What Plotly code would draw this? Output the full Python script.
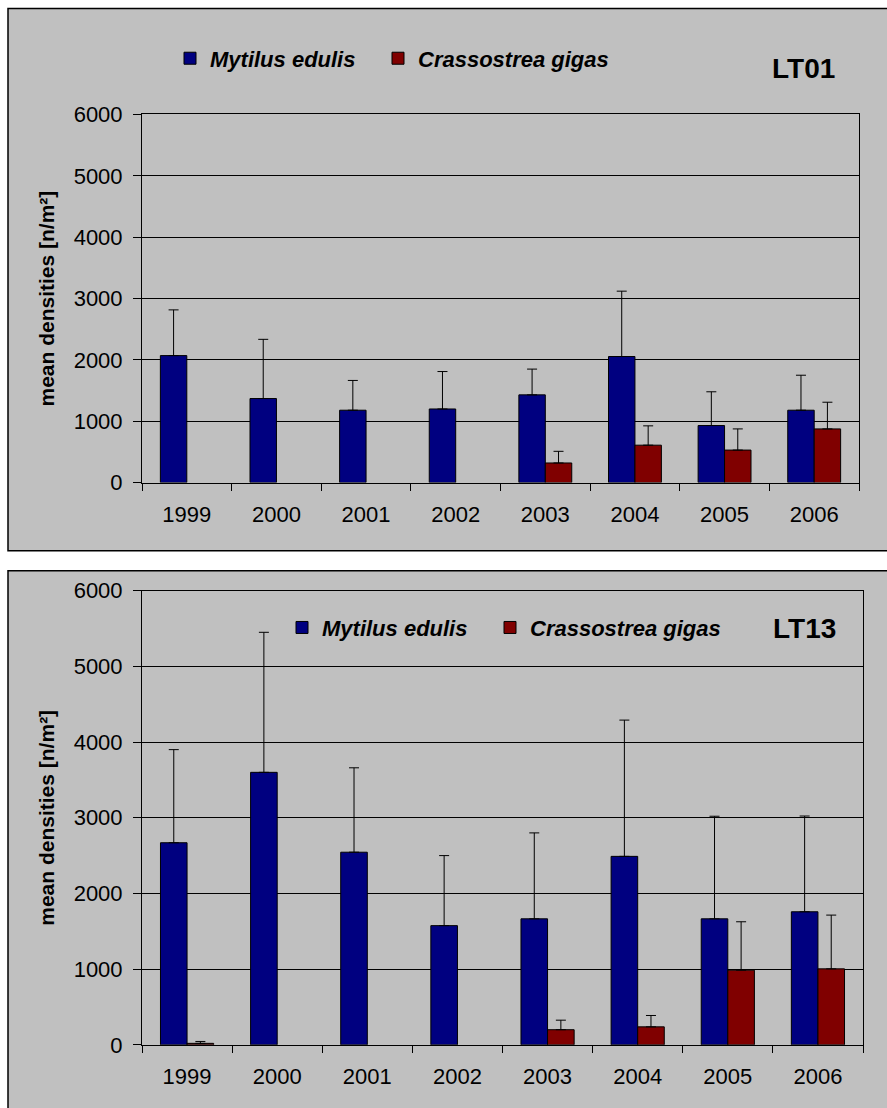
import plotly.graph_objects as go

W, H = 887, 1108

years = ['1999', '2000', '2001', '2002', '2003', '2004', '2005', '2006']

# LT01
lt01_mytilus = [2070, 1370, 1180, 1200, 1430, 2055, 930, 1180]
lt01_mytilus_err = [745, 965, 485, 610, 420, 1065, 550, 570]
lt01_crass = [None, None, None, None, 320, 610, 530, 875]
lt01_crass_err = [None, None, None, None, 190, 315, 345, 435]

# LT13
lt13_mytilus = [2670, 3600, 2545, 1575, 1665, 2490, 1665, 1758]
lt13_mytilus_err = [1230, 1850, 1115, 925, 1135, 1800, 1355, 1265]
lt13_crass = [20, None, None, None, 200, 238, 987, 1004]
lt13_crass_err = [25, None, None, None, 126, 150, 639, 710]

y_ticks = [0, 1000, 2000, 3000, 4000, 5000, 6000]

BLUE = '#000080'
RED = '#800000'
GRAY = '#C0C0C0'
FONT = 'Liberation Sans, Arial, sans-serif'


def px(x):
    return x / W


def py(y):
    # target pixel row -> paper fraction (compensates the page photo's vertical fit)
    ly = (y - 11.6) / 0.977
    return 1 - ly / H


def err(vals):
    return dict(type='data', symmetric=False, array=vals,
                arrayminus=[0] * len(vals), color='black', thickness=1, width=5)


fig = go.Figure()

panels = [
    dict(xa='x', ya='y', legs=('legend', 'legend2'), my=lt01_mytilus, mye=lt01_mytilus_err,
         cg=lt01_crass, cge=lt01_crass_err),
    dict(xa='x2', ya='y2', legs=('legend3', 'legend4'), my=lt13_mytilus, mye=lt13_mytilus_err,
         cg=lt13_crass, cge=lt13_crass_err),
]

for p in panels:
    fig.add_trace(go.Bar(x=years, y=p['my'], name='Mytilus edulis', xaxis=p['xa'], yaxis=p['ya'],
                         legend=p['legs'][0], showlegend=True,
                         marker=dict(color=BLUE, line=dict(color='black', width=1)),
                         error_y=err(p['mye'])))
    fig.add_trace(go.Bar(x=years, y=p['cg'], name='Crassostrea gigas', xaxis=p['xa'], yaxis=p['ya'],
                         legend=p['legs'][1], showlegend=True,
                         marker=dict(color=RED, line=dict(color='black', width=1)),
                         error_y=err(p['cge'])))

xcommon = dict(type='category', tickson='boundaries', ticks='outside', ticklen=7, tickcolor='black',
               tickwidth=1, showline=True, mirror=True, linecolor='black', linewidth=1,
               showgrid=False, tickfont=dict(family=FONT, size=22, color='black'),
               ticklabelstandoff=12)
ycommon = dict(range=[0, 6000], tickvals=y_ticks, ticks='outside', ticklen=8, tickcolor='black',
               tickwidth=1, showline=True, mirror=True, linecolor='black', linewidth=1,
               showgrid=True, gridcolor='black', gridwidth=1, zeroline=False,
               tickfont=dict(family=FONT, size=22, color='black'), ticklabelstandoff=6)

legfont = dict(family=FONT, size=22, color='black', weight='bold', style='italic')


def leg(xc, yc):
    # xc: centre of the legend swatch in px, yc: vertical centre in px
    return dict(orientation='h', x=px(xc - 21), xanchor='left', y=py(yc), yanchor='middle',
                font=legfont, bgcolor='rgba(0,0,0,0)')


fig.update_layout(
    width=W, height=H,
    showlegend=True,
    margin=dict(l=0, r=0, t=0, b=0),
    paper_bgcolor='white', plot_bgcolor='white',
    barmode='group', bargap=0.41, bargroupgap=0,
    xaxis=dict(domain=[px(142), px(859)], anchor='y', **xcommon),
    yaxis=dict(domain=[py(482), py(114)], anchor='x', **ycommon),
    xaxis2=dict(domain=[px(142), px(863)], anchor='y2', **xcommon),
    yaxis2=dict(domain=[py(1044), py(590)], anchor='x2', **ycommon),
    legend=leg(191, 58),
    legend2=leg(399, 58),
    legend3=leg(303, 627),
    legend4=leg(511, 627),
    shapes=[
        dict(type='rect', xref='paper', yref='paper', x0=px(8), x1=1, y0=py(8), y1=py(550),
             fillcolor=GRAY, line=dict(width=0), layer='below'),
        dict(type='path', xref='paper', yref='paper',
             path=f'M 1,{py(8)} L {px(8)},{py(8)} L {px(8)},{py(550)} L 1,{py(550)}',
             line=dict(color='black', width=1.5), layer='below'),
        dict(type='rect', xref='paper', yref='paper', x0=px(8), x1=1, y0=py(570), y1=py(1115),
             fillcolor=GRAY, line=dict(width=0), layer='below'),
        dict(type='path', xref='paper', yref='paper',
             path=f'M {px(8)},{py(1115)} L {px(8)},{py(570)} L 1,{py(570)}',
             line=dict(color='black', width=1.5), layer='below'),
    ],
    annotations=[
        dict(text='LT01', xref='paper', yref='paper', x=px(803), y=py(68), showarrow=False,
             xanchor='center', yanchor='middle',
             font=dict(family=FONT, size=28, color='black', weight='bold')),
        dict(text='LT13', xref='paper', yref='paper', x=px(804), y=py(628), showarrow=False,
             xanchor='center', yanchor='middle',
             font=dict(family=FONT, size=28, color='black', weight='bold')),
        dict(text='mean densities [n/m²]', xref='paper', yref='paper', x=px(47), y=py(298),
             showarrow=False, textangle=-90, xanchor='center', yanchor='middle',
             font=dict(family=FONT, size=21, color='black', weight='bold')),
        dict(text='mean densities [n/m²]', xref='paper', yref='paper', x=px(47), y=py(817),
             showarrow=False, textangle=-90, xanchor='center', yanchor='middle',
             font=dict(family=FONT, size=21, color='black', weight='bold')),
    ],
)

post = ("var s=document.createElement('style');"
        "s.textContent='html,body{margin:0;padding:0;overflow:hidden;font-size:0;line-height:0;}"
        " .plotly-graph-div{position:fixed !important;top:0;left:0;}"
        " .main-svg{overflow:visible !important;}';"
        "document.head.appendChild(s);")

fig.write_html('out.html', post_script=post, config={'displayModeBar': False})
